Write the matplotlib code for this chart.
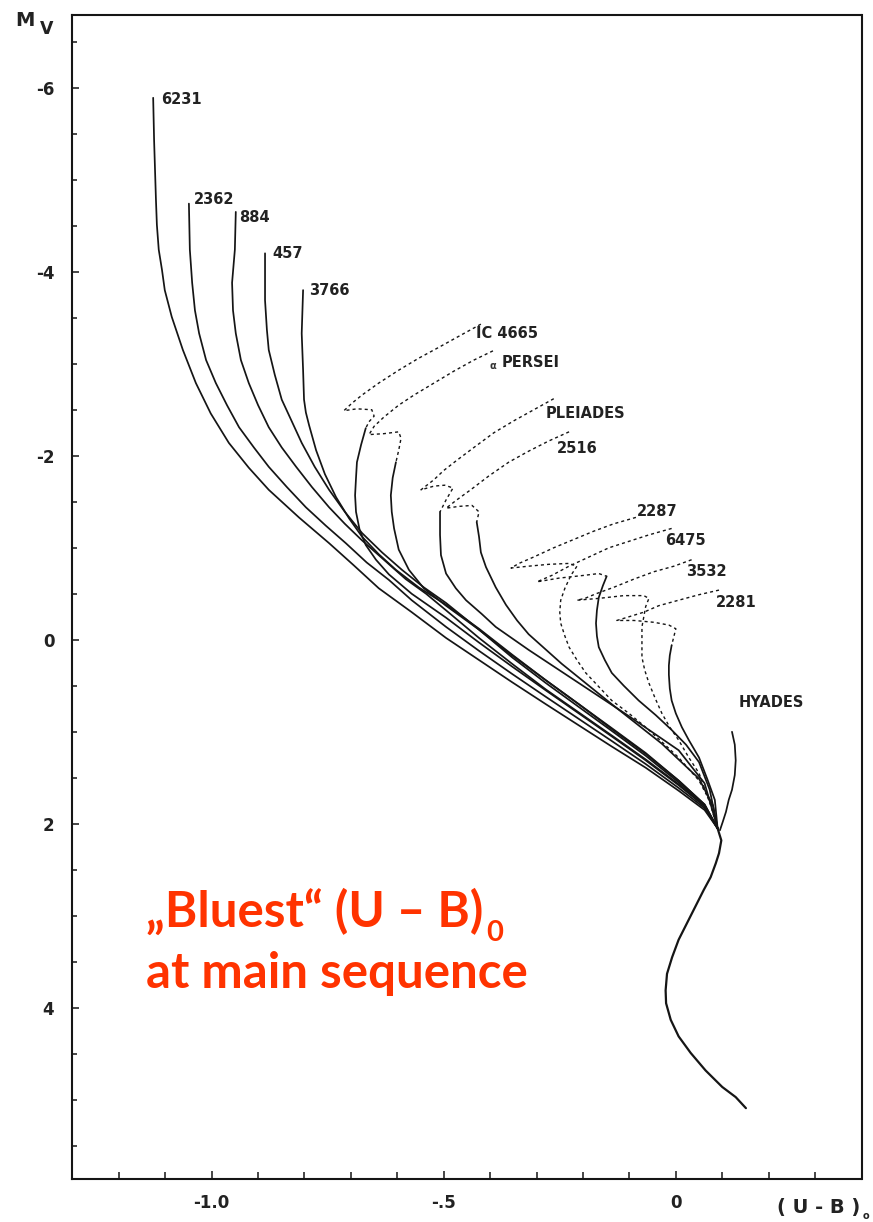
import matplotlib
matplotlib.use("Agg")
import matplotlib.pyplot as plt
from matplotlib.transforms import offset_copy

# ---------------- data ((U-B)0 vs Mv) ----------------
n6231_x = [-1.126,-1.124,-1.120,-1.118,-1.114,-1.107,-1.101,-1.086,-1.062,-1.034,-1.002,-0.963,-0.920,-0.877,-0.812,-0.747,-0.694,-0.640,-0.569,-0.495,-0.424,-0.353,-0.280,-0.209,-0.138,-0.065,0.006,0.062,0.090]
n6231_y = [-5.89,-5.43,-4.78,-4.51,-4.24,-4.02,-3.80,-3.51,-3.15,-2.79,-2.46,-2.14,-1.87,-1.63,-1.33,-1.05,-0.81,-0.56,-0.30,-0.02,0.22,0.46,0.70,0.93,1.16,1.39,1.64,1.85,2.05]

n2362_x = [-1.049,-1.047,-1.042,-1.036,-1.027,-1.012,-0.991,-0.967,-0.941,-0.909,-0.877,-0.838,-0.797,-0.754,-0.711,-0.666,-0.618,-0.569,-0.495,-0.424,-0.353,-0.280,-0.209,-0.138,-0.065,0.006,0.062,0.090]
n2362_y = [-4.74,-4.24,-3.88,-3.58,-3.33,-3.04,-2.79,-2.55,-2.31,-2.09,-1.88,-1.66,-1.44,-1.24,-1.05,-0.84,-0.65,-0.43,-0.14,0.12,0.37,0.62,0.86,1.10,1.35,1.61,1.83,2.05]

n884_x = [-0.948,-0.950,-0.956,-0.954,-0.948,-0.937,-0.920,-0.900,-0.877,-0.849,-0.818,-0.784,-0.747,-0.713,-0.676,-0.629,-0.582,-0.538,-0.495,-0.424,-0.353,-0.280,-0.209,-0.138,-0.065,0.006,0.062,0.090]
n884_y = [-4.65,-4.24,-3.88,-3.58,-3.33,-3.04,-2.79,-2.55,-2.31,-2.09,-1.88,-1.66,-1.44,-1.26,-1.08,-0.87,-0.66,-0.50,-0.32,-0.02,0.26,0.54,0.79,1.04,1.30,1.57,1.81,2.05]

n457_x = [-0.885,-0.885,-0.881,-0.877,-0.864,-0.849,-0.827,-0.806,-0.778,-0.747,-0.713,-0.676,-0.633,-0.590,-0.543,-0.495,-0.424,-0.353,-0.280,-0.209,-0.138,-0.065,0.006,0.062,0.090]
n457_y = [-4.20,-3.69,-3.37,-3.15,-2.88,-2.61,-2.37,-2.14,-1.88,-1.63,-1.39,-1.16,-0.95,-0.76,-0.57,-0.40,-0.11,0.19,0.47,0.73,0.99,1.26,1.55,1.80,2.05]

n3766_x = [-0.803,-0.806,-0.803,-0.801,-0.797,-0.790,-0.775,-0.756,-0.732,-0.704,-0.676,-0.640,-0.603,-0.554,-0.495,-0.424,-0.353,-0.280,-0.209,-0.138,-0.065,0.006,0.062,0.090]
n3766_y = [-3.80,-3.33,-2.93,-2.61,-2.47,-2.33,-2.06,-1.80,-1.55,-1.32,-1.12,-0.93,-0.76,-0.57,-0.38,-0.12,0.16,0.44,0.70,0.96,1.23,1.53,1.79,2.05]

ic4665_dot_x = [-0.420,-0.467,-0.510,-0.554,-0.597,-0.640,-0.676,-0.698,-0.715,-0.687,-0.655,-0.650,-0.661,-0.668]
ic4665_dot_y = [-3.43,-3.30,-3.18,-3.06,-2.93,-2.79,-2.66,-2.57,-2.49,-2.51,-2.50,-2.43,-2.37,-2.30]
ic4665_sol_x = [-0.668,-0.678,-0.687,-0.689,-0.691,-0.689,-0.681,-0.668,-0.646,-0.618,-0.569,-0.495,-0.424,-0.353,-0.280,-0.209,-0.138,-0.065,0.006,0.062,0.090]
ic4665_sol_y = [-2.30,-2.12,-1.93,-1.76,-1.57,-1.39,-1.19,-1.03,-0.87,-0.71,-0.50,-0.24,0.03,0.29,0.55,0.80,1.05,1.31,1.58,1.81,2.05]

aper_dot_x = [-0.394,-0.435,-0.478,-0.521,-0.564,-0.597,-0.629,-0.650,-0.661,-0.629,-0.597,-0.592,-0.597,-0.603]
aper_dot_y = [-3.14,-3.04,-2.92,-2.79,-2.66,-2.55,-2.42,-2.32,-2.23,-2.24,-2.26,-2.19,-2.06,-1.93]
aper_sol_x = [-0.603,-0.610,-0.614,-0.612,-0.607,-0.597,-0.575,-0.543,-0.495,-0.424,-0.353,-0.280,-0.209,-0.138,-0.065,0.006,0.062,0.090]
aper_sol_y = [-1.93,-1.76,-1.57,-1.39,-1.21,-0.98,-0.76,-0.56,-0.37,-0.11,0.17,0.44,0.70,0.97,1.24,1.53,1.79,2.05]

plei_dot_x = [-0.263,-0.306,-0.349,-0.392,-0.435,-0.472,-0.500,-0.521,-0.549,-0.521,-0.498,-0.480,-0.495,-0.508]
plei_dot_y = [-2.62,-2.50,-2.38,-2.25,-2.09,-1.95,-1.84,-1.74,-1.63,-1.67,-1.68,-1.65,-1.52,-1.39]
plei_sol_x = [-0.508,-0.508,-0.506,-0.495,-0.474,-0.452,-0.418,-0.388,-0.317,-0.209,-0.101,0.006,0.062,0.090]
plei_sol_y = [-1.39,-1.14,-0.92,-0.72,-0.56,-0.43,-0.28,-0.14,0.11,0.47,0.83,1.20,1.56,2.05]

n2516_dot_x = [-0.230,-0.274,-0.317,-0.360,-0.403,-0.442,-0.472,-0.495,-0.467,-0.439,-0.424,-0.429]
n2516_dot_y = [-2.26,-2.16,-2.05,-1.93,-1.78,-1.63,-1.52,-1.43,-1.45,-1.46,-1.39,-1.28]
n2516_sol_x = [-0.429,-0.424,-0.420,-0.409,-0.388,-0.366,-0.342,-0.317,-0.246,-0.138,-0.030,0.050,0.080,0.090]
n2516_sol_y = [-1.28,-1.12,-0.95,-0.79,-0.57,-0.38,-0.21,-0.06,0.26,0.70,1.13,1.51,1.80,2.05]

n2287_dot_x = [-0.086,-0.134,-0.177,-0.220,-0.263,-0.306,-0.338,-0.355,-0.317,-0.274,-0.230,-0.213,-0.226,-0.239,-0.248,-0.250,-0.248,-0.239,-0.230,-0.213,-0.194,-0.166,-0.138,-0.101,-0.065,-0.030,0.006,0.050,0.078,0.090]
n2287_dot_y = [-1.33,-1.26,-1.18,-1.09,-1.00,-0.90,-0.83,-0.78,-0.80,-0.82,-0.83,-0.80,-0.70,-0.56,-0.43,-0.30,-0.18,-0.04,0.08,0.22,0.36,0.51,0.66,0.80,0.95,1.11,1.28,1.53,1.80,2.05]

n6475_dot_x = [-0.009,-0.058,-0.101,-0.144,-0.187,-0.230,-0.267,-0.299,-0.252,-0.198,-0.166,-0.149]
n6475_dot_y = [-1.21,-1.14,-1.07,-1.00,-0.90,-0.80,-0.70,-0.63,-0.67,-0.70,-0.72,-0.69]
n6475_sol_x = [-0.149,-0.157,-0.166,-0.170,-0.172,-0.170,-0.166,-0.153,-0.138,-0.112,-0.080,-0.043,-0.009,0.022,0.050,0.073,0.090]
n6475_sol_y = [-0.69,-0.59,-0.46,-0.32,-0.18,-0.04,0.08,0.22,0.36,0.50,0.66,0.82,0.98,1.14,1.33,1.63,2.05]

n3532_dot_x = [0.034,-0.004,-0.047,-0.090,-0.134,-0.172,-0.196,-0.213,-0.166,-0.112,-0.069,-0.058,-0.065,-0.069,-0.073,-0.073,-0.073,-0.067,-0.058,-0.045,-0.030,-0.013,0.006,0.028,0.050,0.075,0.090]
n3532_dot_y = [-0.87,-0.80,-0.74,-0.66,-0.57,-0.50,-0.45,-0.43,-0.45,-0.48,-0.48,-0.45,-0.36,-0.25,-0.14,0.03,0.19,0.33,0.47,0.63,0.80,0.95,1.09,1.28,1.45,1.80,2.05]

n2281_dot_x = [0.093,0.050,0.006,-0.037,-0.069,-0.101,-0.127,-0.090,-0.047,-0.015,0.000,-0.004,-0.009]
n2281_dot_y = [-0.54,-0.49,-0.43,-0.37,-0.30,-0.25,-0.21,-0.21,-0.19,-0.16,-0.12,-0.04,0.06]
n2281_sol_x = [-0.009,-0.013,-0.015,-0.015,-0.013,-0.009,0.000,0.013,0.028,0.050,0.069,0.084,0.090]
n2281_sol_y = [0.06,0.17,0.28,0.38,0.53,0.66,0.80,0.95,1.09,1.28,1.53,1.74,2.05]

hyades_x = [0.121,0.127,0.129,0.127,0.121,0.114,0.108,0.101,0.095]
hyades_y = [1.00,1.14,1.31,1.47,1.63,1.74,1.87,1.98,2.07]

lower_ms_x = [0.090,0.098,0.093,0.086,0.075,0.060,0.042,0.024,0.006,-0.008,-0.019,-0.022,-0.021,-0.011,0.006,0.032,0.064,0.100,0.129,0.151]
lower_ms_y = [2.05,2.18,2.32,2.43,2.58,2.72,2.90,3.08,3.26,3.45,3.63,3.81,3.95,4.13,4.31,4.49,4.68,4.86,4.97,5.09]

cluster_labels = ["6231", "2362", "884", "457", "3766", "IC 4665", "PERSEI",
                  "PLEIADES", "2516", "2287", "6475", "3532", "2281", "HYADES"]
label_x = [-1.109, -1.038, -0.941, -0.870, -0.790, -0.431, -0.375,
           -0.280, -0.256, -0.084, -0.022, 0.022, 0.086, 0.136]
label_y = [-5.87, -4.78, -4.59, -4.20, -3.80, -3.33, -3.01,
           -2.46, -2.08, -1.39, -1.08, -0.74, -0.40, 0.68]

x_ticks = [-1.0, -0.5, 0.0]
x_ticklabels = ["-1.0", "-.5", "0"]
x_minor = [-1.2, -1.1, -0.9, -0.8, -0.7, -0.6, -0.4, -0.3, -0.2, -0.1, 0.1, 0.2, 0.3]
y_ticks = [-6, -4, -2, 0, 2, 4]
y_ticklabels = ["-6", "-4", "-2", "0", "2", "4"]
y_minor = [-6.5, -5.5, -5, -4.5, -3.5, -3, -2.5, -1.5, -1, -0.5, 0.5, 1, 1.5, 2.5, 3, 3.5, 4.5, 5, 5.5]

# ---------------- figure ----------------
W, H = 873, 1222
fig = plt.figure(figsize=(W / 100, H / 100), dpi=100)
fig.patch.set_facecolor("white")
ax = fig.add_axes([72.4 / W, 1 - 1179 / H, (861.5 - 72.4) / W, (1179 - 15) / H])
ax.set_xlim(-1.3, 0.4)
ax.set_ylim(5.86, -6.79)

ink = "#151515"
solid_kw = dict(color=ink, lw=1.25, solid_capstyle="round", solid_joinstyle="round")
dot_kw = dict(color=ink, lw=1.0, linestyle=(0, (2.2, 2.2)))

solid_curves = [
    (n6231_x, n6231_y), (n2362_x, n2362_y), (n884_x, n884_y), (n457_x, n457_y),
    (n3766_x, n3766_y), (ic4665_sol_x, ic4665_sol_y), (aper_sol_x, aper_sol_y),
    (plei_sol_x, plei_sol_y), (n2516_sol_x, n2516_sol_y), (n6475_sol_x, n6475_sol_y),
    (n2281_sol_x, n2281_sol_y), (hyades_x, hyades_y),
]
dotted_curves = [
    (ic4665_dot_x, ic4665_dot_y), (aper_dot_x, aper_dot_y), (plei_dot_x, plei_dot_y),
    (n2516_dot_x, n2516_dot_y), (n2287_dot_x, n2287_dot_y), (n6475_dot_x, n6475_dot_y),
    (n3532_dot_x, n3532_dot_y), (n2281_dot_x, n2281_dot_y),
]
for xs, ys in solid_curves:
    ax.plot(xs, ys, **solid_kw)
for xs, ys in dotted_curves:
    ax.plot(xs, ys, **dot_kw)
ax.plot(lower_ms_x, lower_ms_y, color=ink, lw=1.6, solid_capstyle="round",
        solid_joinstyle="round")

for lab, lx, ly in zip(cluster_labels, label_x, label_y):
    ax.text(lx, ly, lab, fontsize=10.5, fontweight="bold", color="#222222",
            ha="left", va="center", family="DejaVu Sans")
# small alpha in front of PERSEI
ax.text(label_x[6] - 0.012, label_y[6] + 0.03, "α", fontsize=7, fontweight="bold",
        color="#333333", ha="right", va="center")

# axes styling
for s in ax.spines.values():
    s.set_linewidth(1.5)
    s.set_color(ink)
ax.set_xticks(x_ticks)
ax.set_xticklabels(x_ticklabels)
ax.set_xticks(x_minor, minor=True)
ax.set_yticks(y_ticks)
ax.set_yticklabels(y_ticklabels)
ax.set_yticks(y_minor, minor=True)
ax.tick_params(which="both", direction="in", top=False, right=False, color=ink, width=1.1)
ax.tick_params(axis="x", which="major", length=6, pad=11)
ax.tick_params(axis="x", which="minor", length=5)
ax.tick_params(axis="y", which="major", length=5, pad=13)
ax.tick_params(axis="y", which="minor", length=3.5)
for t in ax.get_xticklabels() + ax.get_yticklabels():
    t.set_fontweight("bold")
    t.set_fontsize(12)
    t.set_color("#222222")

# axis titles
fig.text(25 / W, 1 - 21 / H, "M", fontsize=14, fontweight="bold", ha="center", va="center", color="#222222")
fig.text(47 / W, 1 - 29 / H, "V", fontsize=12.5, fontweight="bold", ha="center", va="center", color="#222222")
fig.text(819 / W, 1 - 1207 / H, "( U - B )", fontsize=14, fontweight="bold", ha="center", va="center", color="#222222")
fig.text(866 / W, 1 - 1216 / H, "o", fontsize=7, fontweight="bold", ha="center", va="center", color="#222222")

# red annotation
red = "#FF3300"
fam = ["Lato", "DejaVu Sans"]
line1 = fig.text(146 / W, 1 - 927 / H, "„Bluest“ (U – B)", fontsize=35.5, fontweight="bold",
                 color=red, family=fam, ha="left", va="baseline")
fig.text(146 / W, 1 - 988 / H, "at main sequence", fontsize=35.5, fontweight="bold",
         color=red, family=fam, ha="left", va="baseline")
fig.canvas.draw()
bb = line1.get_window_extent(renderer=fig.canvas.get_renderer())
sub_tr = offset_copy(fig.transFigure, fig=fig, x=2, y=-14 * 0.72, units="points")
fig.text(bb.x1 / W, 1 - 927 / H, "0", fontsize=21, fontweight="bold",
         color=red, family=fam, ha="left", va="baseline", transform=sub_tr)

fig.savefig("out.png", dpi=100, facecolor="white")
